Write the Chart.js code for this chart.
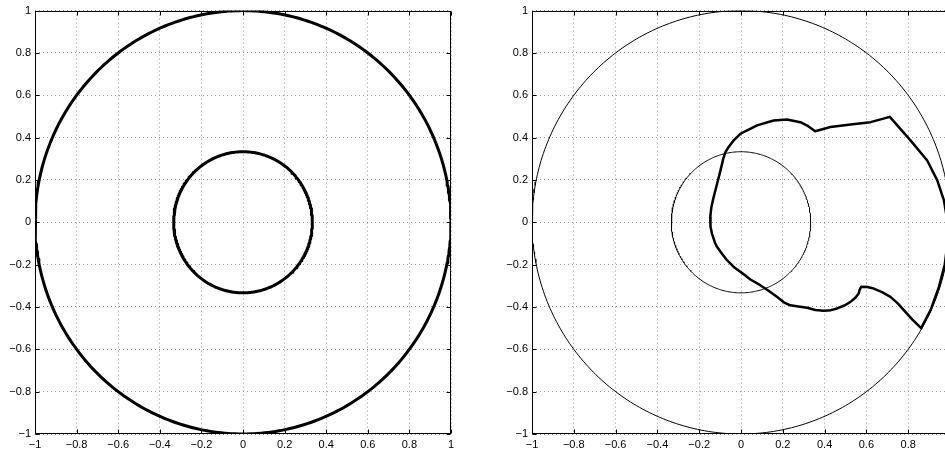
<!DOCTYPE html>
<html>
<head>
<meta charset="utf-8">
<script src="https://cdn.jsdelivr.net/npm/chart.js@4/dist/chart.umd.min.js"></script>
<style>
  html, body { margin: 0; padding: 0; background: #fff; overflow: hidden; width: 945px; height: 453px; }
  .panel { position: absolute; top: 0; }
</style>
</head>
<body>
<div class="panel" style="left:0"><canvas id="left" width="472" height="453"></canvas></div>
<div class="panel" style="left:497px"><canvas id="right" width="480" height="453"></canvas></div>
<script>
// axis ticks (same on both axes, both panels)
var tickValues = [-1, -0.8, -0.6, -0.4, -0.2, 0, 0.2, 0.4, 0.6, 0.8, 1];

// radii of the two reference circles
var circleRadii = [1, 1 / 3];

// closed boundary curve in the right panel
var shapeX = [0.712, 0.62, 0.524, 0.428, 0.355, 0.32, 0.284, 0.22, 0.156, 0.077,
  0.02, -0.003, -0.035, -0.06, -0.075, -0.085, -0.092, -0.102, -0.115, -0.131,
  -0.142, -0.147, -0.146, -0.139, -0.125, -0.115, -0.09, -0.067, -0.03, 0.005,
  0.045, 0.092, 0.13, 0.172, 0.205, 0.236, 0.275, 0.316, 0.356, 0.396,
  0.43, 0.46, 0.495, 0.524, 0.548, 0.563, 0.568, 0.575, 0.605, 0.635,
  0.675, 0.715, 0.75, 0.779, 0.82, 0.862, 0.907, 0.947, 0.975, 0.985,
  0.99, 0.985, 0.971, 0.939, 0.891, 0.811, 0.712];
var shapeY = [0.498, 0.473, 0.462, 0.45, 0.43, 0.455, 0.473, 0.486, 0.481, 0.458,
  0.43, 0.418, 0.387, 0.355, 0.33, 0.3, 0.27, 0.23, 0.18, 0.119,
  0.07, 0.025, -0.02, -0.053, -0.095, -0.116, -0.15, -0.179, -0.215, -0.24,
  -0.27, -0.297, -0.322, -0.352, -0.378, -0.392, -0.398, -0.404, -0.414, -0.418,
  -0.415, -0.407, -0.393, -0.376, -0.355, -0.336, -0.318, -0.305, -0.306, -0.313,
  -0.33, -0.352, -0.383, -0.415, -0.46, -0.5, -0.415, -0.305, -0.2, -0.12,
  -0.05, 0.02, 0.104, 0.198, 0.292, 0.387, 0.498];

var FONT = { family: "'Liberation Sans', Arial, Helvetica, sans-serif", size: 11 };

function circlePoints(r) {
  var pts = [];
  for (var a = 0; a <= 360; a += 1) {
    var t = a * Math.PI / 180;
    pts.push({ x: r * Math.cos(t), y: r * Math.sin(t) });
  }
  return pts;
}

function zip(xs, ys) {
  return xs.map(function(x, i) { return { x: x, y: ys[i] }; });
}

function fmt(v) {
  return String(v).replace('-', '\u2212');
}

// MATLAB-like box with inward tick marks
var boxPlugin = {
  id: 'box',
  afterDraw: function(chart) {
    var ctx = chart.ctx, a = chart.chartArea;
    var xs = chart.scales.x, ys = chart.scales.y;
    var L = Math.round(a.left) + 0.5, R = Math.round(a.right) - 0.5;
    var T = Math.round(a.top) + 0.5, B = Math.round(a.bottom) - 0.5;
    ctx.save();
    ctx.strokeStyle = '#000';
    ctx.lineWidth = 1;
    ctx.strokeRect(L, T, R - L, B - T);
    ctx.beginPath();
    tickValues.forEach(function(v) {
      var px = Math.round(xs.getPixelForValue(v)) + 0.5;
      ctx.moveTo(px, B); ctx.lineTo(px, B - 4);
      ctx.moveTo(px, T); ctx.lineTo(px, T + 4);
      var py = Math.round(ys.getPixelForValue(v)) + 0.5;
      ctx.moveTo(L, py); ctx.lineTo(L + 4, py);
      ctx.moveTo(R, py); ctx.lineTo(R - 4, py);
    });
    ctx.stroke();
    ctx.restore();
  }
};

function axis(horizontal) {
  return {
    type: 'linear',
    min: -1,
    max: 1,
    afterBuildTicks: function(scale) {
      scale.ticks = tickValues.map(function(v) { return { value: v }; });
    },
    afterFit: function(scale) {
      if (horizontal) scale.height = 19; else scale.width = 35;
    },
    grid: { color: '#999', lineWidth: 1, drawTicks: false },
    border: { display: false, dash: [1, 3] },
    ticks: {
      color: '#000',
      font: FONT,
      padding: 4,
      autoSkip: false,
      maxRotation: 0,
      callback: function(v) { return fmt(v); }
    }
  };
}

function makeChart(id, datasets, padRight) {
  return new Chart(document.getElementById(id), {
    type: 'scatter',
    data: { datasets: datasets },
    options: {
      responsive: false,
      animation: false,
      devicePixelRatio: 1,
      layout: { padding: { top: 10, right: padRight, left: 0, bottom: 0 } },
      plugins: { legend: { display: false }, tooltip: { enabled: false } },
      elements: { point: { radius: 0 } },
      scales: { x: axis(true), y: axis(false) }
    },
    plugins: [boxPlugin]
  });
}

function line(points, width) {
  return {
    data: points,
    showLine: true,
    borderColor: '#000',
    borderWidth: width,
    borderJoinStyle: 'round',
    borderCapStyle: 'round',
    pointRadius: 0,
    tension: 0,
    fill: false
  };
}

makeChart('left', circleRadii.map(function(r) { return line(circlePoints(r), 3); }), 21);

makeChart('right', circleRadii.map(function(r) { return line(circlePoints(r), 1); })
  .concat([line(zip(shapeX, shapeY), 2.5)]), 27);
</script>
</body>
</html>
